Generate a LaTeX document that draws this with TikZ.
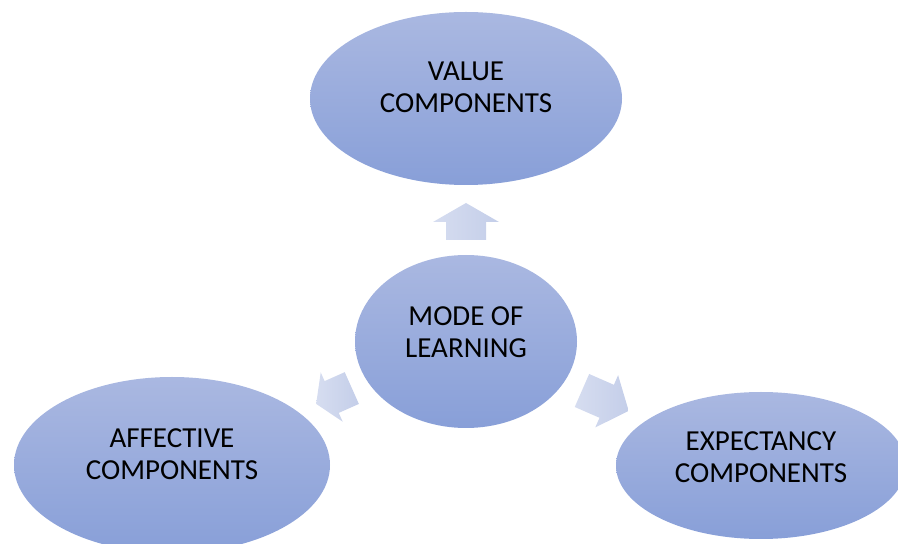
\documentclass[tikz,border=0pt]{standalone}
\usepackage{fontspec}
\setmainfont{Carlito}
\usetikzlibrary{shapes.geometric}
\definecolor{ellTop}{RGB}{170,184,225}
\definecolor{ellBot}{RGB}{136,159,216}
\definecolor{arrA}{RGB}{214,221,240}
\definecolor{arrB}{RGB}{196,206,233}
\tikzset{
  blob/.style={ellipse, inner sep=0pt, draw=none, top color=ellTop, bottom color=ellBot},
  txt/.style={align=center, font=\fontsize{29}{32}\selectfont, text=black, inner sep=0pt},
  arrowfill/.style={left color=arrA, right color=arrB},
}
% #1 tail length, #2 head length, #3 shaft half width, #4 head half width
\newcommand\myblockarrow[4]{%
  \path[arrowfill] (-#1,-#3) -- (0,-#3) -- (0,-#4) -- (#2,0) -- (0,#4) -- (0,#3) -- (-#1,#3) -- cycle;}
\begin{document}
\begin{tikzpicture}[x=1pt,y=1pt]
\useasboundingbox (0,0) rectangle (898,544);
% ellipses
\node[blob, minimum width=312, minimum height=173] (value) at (466,445.5) {};
\node[blob, minimum width=222, minimum height=173] (mode) at (466,202.5) {};
\node[blob, minimum width=316, minimum height=176] (affect) at (172,79) {};
\node[blob, minimum width=290, minimum height=147] (expect) at (761,78.5) {};
% texts
\node[txt] (valuet) at ([yshift=11]value.center) {VALUE\\COMPONENTS};
\node[txt] (modet) at ([yshift=9.5]mode.center) {MODE OF\\LEARNING};
\node[txt] (affectt) at ([yshift=11]affect.center) {AFFECTIVE\\COMPONENTS};
\node[txt] (expectt) at ([yshift=8]expect.center) {EXPECTANCY\\COMPONENTS};
% arrows
\coordinate (upA) at (466,322);
\coordinate (leftA) at (331.7,147);
\coordinate (rightA) at (606.7,142.7);
\begin{scope}[shift={(upA)}, rotate=90]
  \myblockarrow{18}{19}{20}{33}
\end{scope}
\begin{scope}[shift={(leftA)}, rotate=204]
  \myblockarrow{22}{17}{17.4}{27}
\end{scope}
\begin{scope}[shift={(rightA)}, rotate=-23.6]
  \myblockarrow{27}{24}{18}{28.5}
\end{scope}
\end{tikzpicture}
\end{document}
